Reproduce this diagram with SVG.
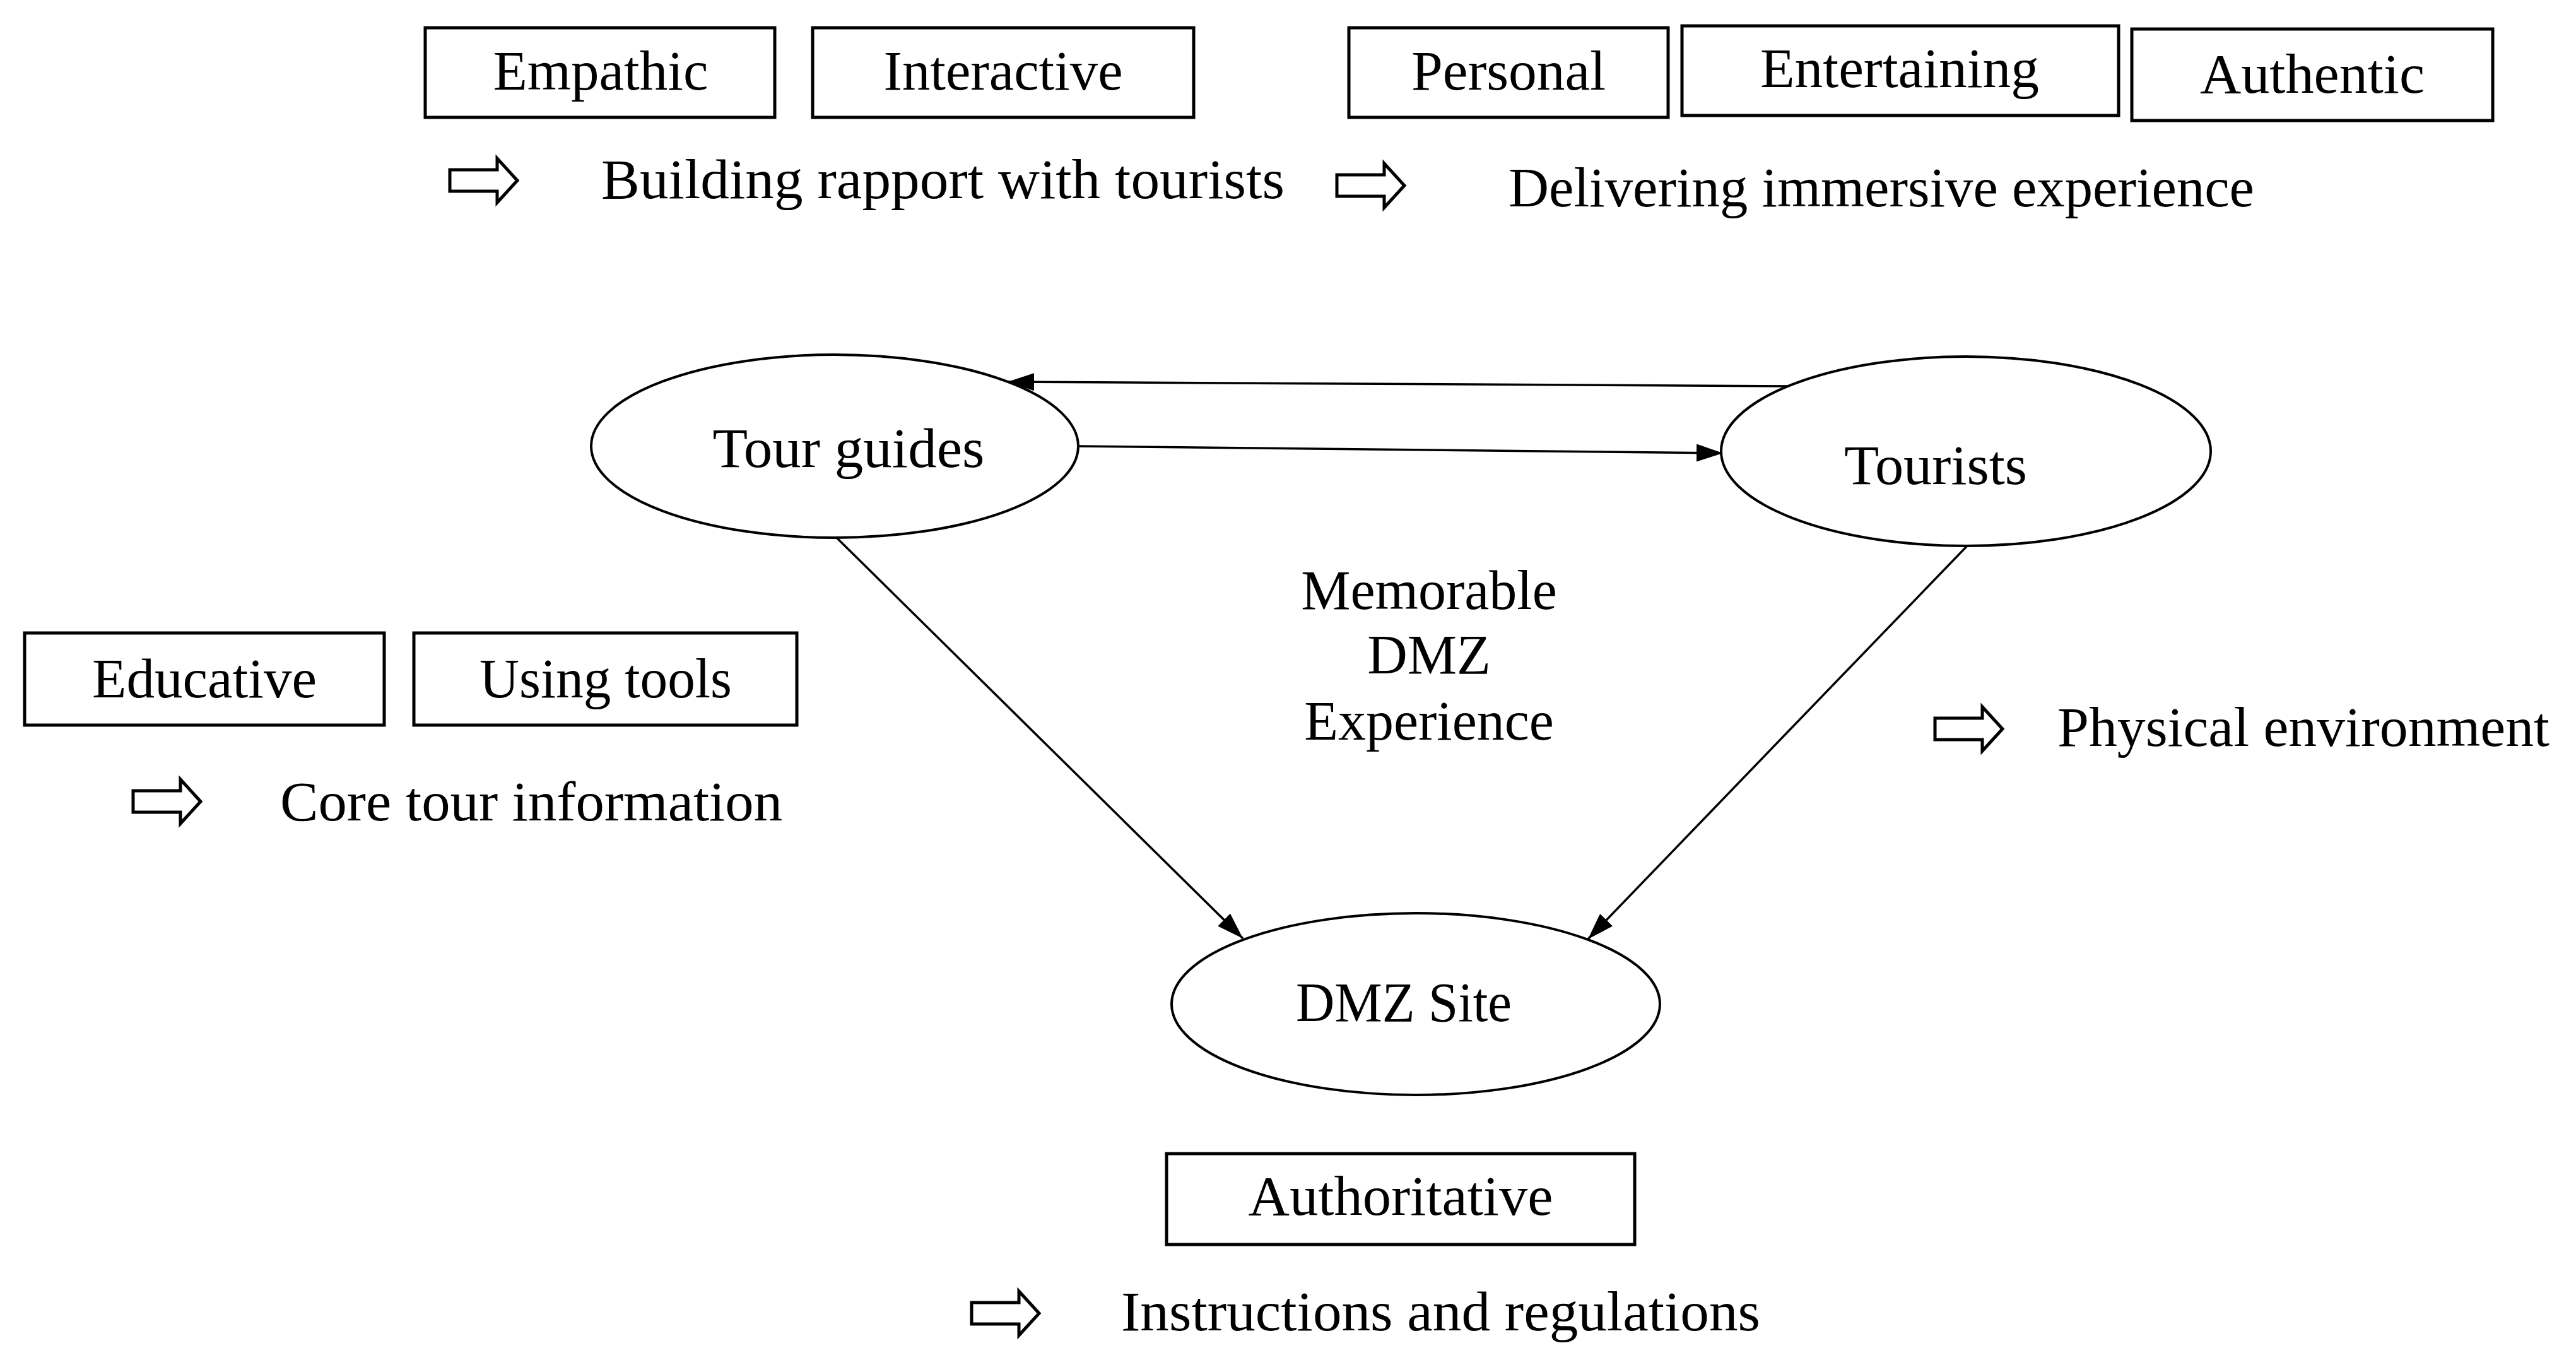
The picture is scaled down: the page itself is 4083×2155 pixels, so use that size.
<svg xmlns="http://www.w3.org/2000/svg" width="4083" height="2155" viewBox="0 0 4083 2155">
<style>
text{font-family:"Liberation Serif","Times New Roman",serif;font-size:88px;fill:#000}
.c{text-anchor:middle}
.box{fill:#fff;stroke:#000;stroke-width:5}
.ell{fill:#fff;stroke:#000;stroke-width:4}
.con{fill:none;stroke:#000;stroke-width:3.5}
.blk{fill:#fff;stroke:#000;stroke-width:5;stroke-linejoin:miter}
</style>
<defs>
<marker id="ah" markerUnits="userSpaceOnUse" markerWidth="42" markerHeight="28" refX="42" refY="14" orient="auto">
<path d="M0,0 L42,14 L0,28 Z" fill="#000"/>
</marker>
<polygon id="blockArrow" class="blk" points="0,18 75,18 75,0 107,35 75,70 75,52 0,52"/>
</defs>
<rect width="4083" height="2155" fill="#fff"/>

<g id="connectors">
<path class="con" d="M2846,612 L1597,605" marker-end="url(#ah)"/>
<path class="con" d="M1709,707 L2731,718" marker-end="url(#ah)"/>
<path class="con" d="M1325,851 L1970,1487" marker-end="url(#ah)"/>
<path class="con" d="M3117,866 L2517,1488" marker-end="url(#ah)"/>
</g>

<g id="node-tour-guides">
<ellipse class="ell" cx="1323" cy="707" rx="386" ry="145"/>
<text x="1345" y="740" class="c" textLength="431" lengthAdjust="spacingAndGlyphs">Tour guides</text>
</g>
<g id="node-tourists">
<ellipse class="ell" cx="3116" cy="715" rx="388" ry="150"/>
<text x="3068" y="767" class="c" textLength="290" lengthAdjust="spacingAndGlyphs">Tourists</text>
</g>
<g id="node-dmz-site">
<ellipse class="ell" cx="2244" cy="1591" rx="387" ry="144"/>
<text x="2225" y="1618" class="c" textLength="342" lengthAdjust="spacingAndGlyphs">DMZ Site</text>
</g>

<g id="center-label">
<text x="2265" y="965" class="c">Memorable</text>
<text x="2265" y="1067" class="c">DMZ</text>
<text x="2265" y="1172" class="c">Experience</text>
</g>

<g id="box-empathic">
<rect class="box" x="674" y="44" width="554" height="142"/>
<text x="952" y="142" class="c" textLength="341" lengthAdjust="spacingAndGlyphs">Empathic</text>
</g>
<g id="box-interactive">
<rect class="box" x="1288" y="44" width="604" height="142"/>
<text x="1590" y="142" class="c" textLength="379" lengthAdjust="spacingAndGlyphs">Interactive</text>
</g>
<g id="box-personal">
<rect class="box" x="2138" y="44" width="506" height="142"/>
<text x="2391" y="142" class="c" textLength="308" lengthAdjust="spacingAndGlyphs">Personal</text>
</g>
<g id="box-entertaining">
<rect class="box" x="2666" y="41" width="692" height="142"/>
<text x="3011" y="138" class="c" textLength="442" lengthAdjust="spacingAndGlyphs">Entertaining</text>
</g>
<g id="box-authentic">
<rect class="box" x="3379" y="46" width="572" height="145"/>
<text x="3665" y="147" class="c" textLength="356" lengthAdjust="spacingAndGlyphs">Authentic</text>
</g>
<g id="box-educative">
<rect class="box" x="39" y="1003" width="570" height="146"/>
<text x="324" y="1105" class="c" textLength="356" lengthAdjust="spacingAndGlyphs">Educative</text>
</g>
<g id="box-using-tools">
<rect class="box" x="656" y="1003" width="607" height="146"/>
<text x="960" y="1105" class="c" textLength="400" lengthAdjust="spacingAndGlyphs">Using tools</text>
</g>
<g id="box-authoritative">
<rect class="box" x="1849" y="1828" width="742" height="144"/>
<text x="2220" y="1925" class="c" textLength="483" lengthAdjust="spacingAndGlyphs">Authoritative</text>
</g>

<g id="label-rapport">
<use href="#blockArrow" x="713" y="251"/>
<text x="953" y="314" textLength="1083" lengthAdjust="spacingAndGlyphs">Building rapport with tourists</text>
</g>
<g id="label-immersive">
<use href="#blockArrow" x="2119" y="259"/>
<text x="2391" y="327" textLength="1182" lengthAdjust="spacingAndGlyphs">Delivering immersive experience</text>
</g>
<g id="label-core">
<use href="#blockArrow" x="211" y="1235"/>
<text x="444" y="1300" textLength="796" lengthAdjust="spacingAndGlyphs">Core tour information</text>
</g>
<g id="label-physical">
<use href="#blockArrow" x="3067" y="1120"/>
<text x="3261" y="1182" textLength="780" lengthAdjust="spacingAndGlyphs">Physical environment</text>
</g>
<g id="label-instructions">
<use href="#blockArrow" x="1540" y="2046"/>
<text x="1777" y="2108" textLength="1013" lengthAdjust="spacingAndGlyphs">Instructions and regulations</text>
</g>
</svg>
